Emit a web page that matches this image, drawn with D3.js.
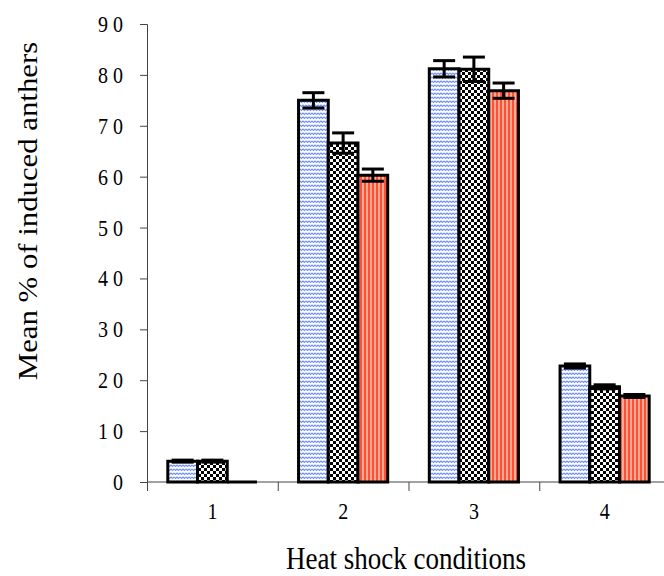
<!DOCTYPE html>
<html>
<head>
<meta charset="utf-8">
<script src="https://cdn.jsdelivr.net/npm/d3@7"></script>
<style>
  body { margin: 0; background: #fff; }
  svg { display: block; font-family: "Liberation Serif", "DejaVu Serif", serif; }
  .tick text { fill: #000; }
</style>
</head>
<body>
<svg id="chart" width="664" height="576"></svg>
<script>
// Heat shock conditions, three treatments per condition
var categories = ["1", "2", "3", "4"];
var series = ["s1", "s2", "s3"];
var valuesS1 = [4.1, 75.0, 81.2, 22.8];
var valuesS2 = [4.1, 66.6, 81.1, 18.7];
var valuesS3 = [0.0, 60.3, 76.9, 16.9];
var errS1 = [0.2, 1.5, 1.6, 0.4];
var errS2 = [0.2, 2.0, 2.4, 0.4];
var errS3 = [0.0, 1.2, 1.5, 0.3];
var yTicks = [0, 10, 20, 30, 40, 50, 60, 70, 80, 90];

var WIDTH = 664, HEIGHT = 576;
var LEFT = 147, TOP = 24, BOTTOM = 482, RIGHT = 670;
var FONT_TICK = "20px", FONT_TITLE = "27px";
var STRETCH = 1.14; // text in the original is a bit taller than wide

var svg = d3.select("#chart");

// fill patterns
var defs = svg.append("defs");

var wave = defs.append("pattern")
  .attr("id", "pat_s1")
  .attr("patternUnits", "userSpaceOnUse")
  .attr("width", 6).attr("height", 4);
wave.append("rect").attr("width", 6).attr("height", 4).attr("fill", "#fff");
wave.append("path")
  .attr("d", "M0,1 L1.5,2.5 L3,1 L4.5,2.5 L6,1")
  .attr("fill", "none")
  .attr("stroke", "#6f8ff7")
  .attr("stroke-width", 1.1);

var checker = defs.append("pattern")
  .attr("id", "pat_s2")
  .attr("patternUnits", "userSpaceOnUse")
  .attr("width", 6).attr("height", 6);
checker.append("rect").attr("width", 6).attr("height", 6).attr("fill", "#fff");
checker.append("rect").attr("width", 3).attr("height", 3).attr("fill", "#000");
checker.append("rect").attr("x", 3).attr("y", 3).attr("width", 3).attr("height", 3).attr("fill", "#000");

var stripes = defs.append("pattern")
  .attr("id", "pat_s3")
  .attr("patternUnits", "userSpaceOnUse")
  .attr("width", 4).attr("height", 4);
stripes.append("rect").attr("width", 4).attr("height", 4).attr("fill", "#ffab8e");
stripes.append("rect").attr("width", 2).attr("height", 4).attr("fill", "#ff4e3a");

// scales
var x0 = d3.scaleBand()
  .domain(categories)
  .range([LEFT, RIGHT])
  .paddingInner(0).paddingOuter(0);

var x1 = d3.scaleBand()
  .domain(series)
  .range([0, x0.bandwidth()])
  .paddingInner(0).paddingOuter(0.7);

var y = d3.scaleLinear()
  .domain([0, 90])
  .range([BOTTOM, TOP]);

// rows of data
var rows = [];
categories.forEach(function(c, i) {
  rows.push({cat: c, s: "s1", v: valuesS1[i], e: errS1[i]});
  rows.push({cat: c, s: "s2", v: valuesS2[i], e: errS2[i]});
  rows.push({cat: c, s: "s3", v: valuesS3[i], e: errS3[i]});
});

// y axis
var yAxis = svg.append("g")
  .attr("transform", "translate(" + LEFT + ",0)")
  .call(d3.axisLeft(y).tickValues(yTicks).tickSize(7).tickPadding(17)
    .tickFormat(function(d) { return String(d).split("").join(" "); }));
yAxis.attr("font-family", null).attr("font-size", null);
yAxis.select(".domain").attr("stroke", "#444");
yAxis.selectAll(".tick line").attr("stroke", "#444");
yAxis.selectAll(".tick text")
  .style("font-size", FONT_TICK)
  .attr("dy", "0.33em")
  .attr("transform", "scale(1," + STRETCH + ")");

// x axis line and boundary ticks
svg.append("line")
  .attr("x1", LEFT).attr("x2", WIDTH)
  .attr("y1", y(0)).attr("y2", y(0))
  .attr("stroke", "#444");
svg.selectAll(".xbound")
  .data(categories)
  .enter().append("line")
  .attr("class", "xbound")
  .attr("x1", function(d) { return x0(d) + 0.5; })
  .attr("x2", function(d) { return x0(d) + 0.5; })
  .attr("y1", y(0))
  .attr("y2", y(0) + 9)
  .attr("stroke", "#444");
svg.selectAll(".xlab")
  .data(categories)
  .enter().append("text")
  .attr("class", "xlab")
  .attr("transform", function(d) {
    return "translate(" + (x0(d) + x0.bandwidth() / 2) + ",519) scale(1," + STRETCH + ")";
  })
  .attr("text-anchor", "middle")
  .style("font-size", FONT_TICK)
  .text(function(d) { return d; });

// bars
svg.selectAll(".bar")
  .data(rows)
  .enter().append("path")
  .attr("class", "bar")
  .attr("d", function(d) {
    var xa = x0(d.cat) + x1(d.s), xb = xa + x1.bandwidth();
    var yt = y(d.v), yb = y(0);
    return "M" + xa + "," + yb + "V" + yt + "H" + xb + "V" + yb + "Z";
  })
  .attr("fill", function(d) { return "url(#pat_" + d.s + ")"; })
  .attr("stroke", "#000")
  .attr("stroke-width", 3)
  .attr("stroke-linejoin", "miter");

// error bars
var errRows = rows.filter(function(d) { return d.e > 0; });
var eb = svg.selectAll(".err")
  .data(errRows)
  .enter().append("g")
  .attr("class", "err")
  .attr("stroke", "#000")
  .attr("stroke-width", 3);
eb.append("line")
  .attr("x1", function(d) { return x0(d.cat) + x1(d.s) + x1.bandwidth() / 2; })
  .attr("x2", function(d) { return x0(d.cat) + x1(d.s) + x1.bandwidth() / 2; })
  .attr("y1", function(d) { return y(d.v + d.e); })
  .attr("y2", function(d) { return y(d.v - d.e); });
eb.append("line")
  .attr("x1", function(d) { return x0(d.cat) + x1(d.s) + x1.bandwidth() / 2 - 11; })
  .attr("x2", function(d) { return x0(d.cat) + x1(d.s) + x1.bandwidth() / 2 + 11; })
  .attr("y1", function(d) { return y(d.v + d.e); })
  .attr("y2", function(d) { return y(d.v + d.e); });
eb.append("line")
  .attr("x1", function(d) { return x0(d.cat) + x1(d.s) + x1.bandwidth() / 2 - 11; })
  .attr("x2", function(d) { return x0(d.cat) + x1(d.s) + x1.bandwidth() / 2 + 11; })
  .attr("y1", function(d) { return y(d.v - d.e); })
  .attr("y2", function(d) { return y(d.v - d.e); });

// axis titles
svg.append("text")
  .attr("transform", "translate(37,211) rotate(-90) scale(" + STRETCH + ",1)")
  .attr("text-anchor", "middle")
  .style("font-size", FONT_TITLE)
  .text("Mean % of induced anthers");

svg.append("text")
  .attr("transform", "translate(406,569) scale(1," + STRETCH + ")")
  .attr("text-anchor", "middle")
  .style("font-size", FONT_TITLE)
  .text("Heat shock conditions");
</script>
</body>
</html>
